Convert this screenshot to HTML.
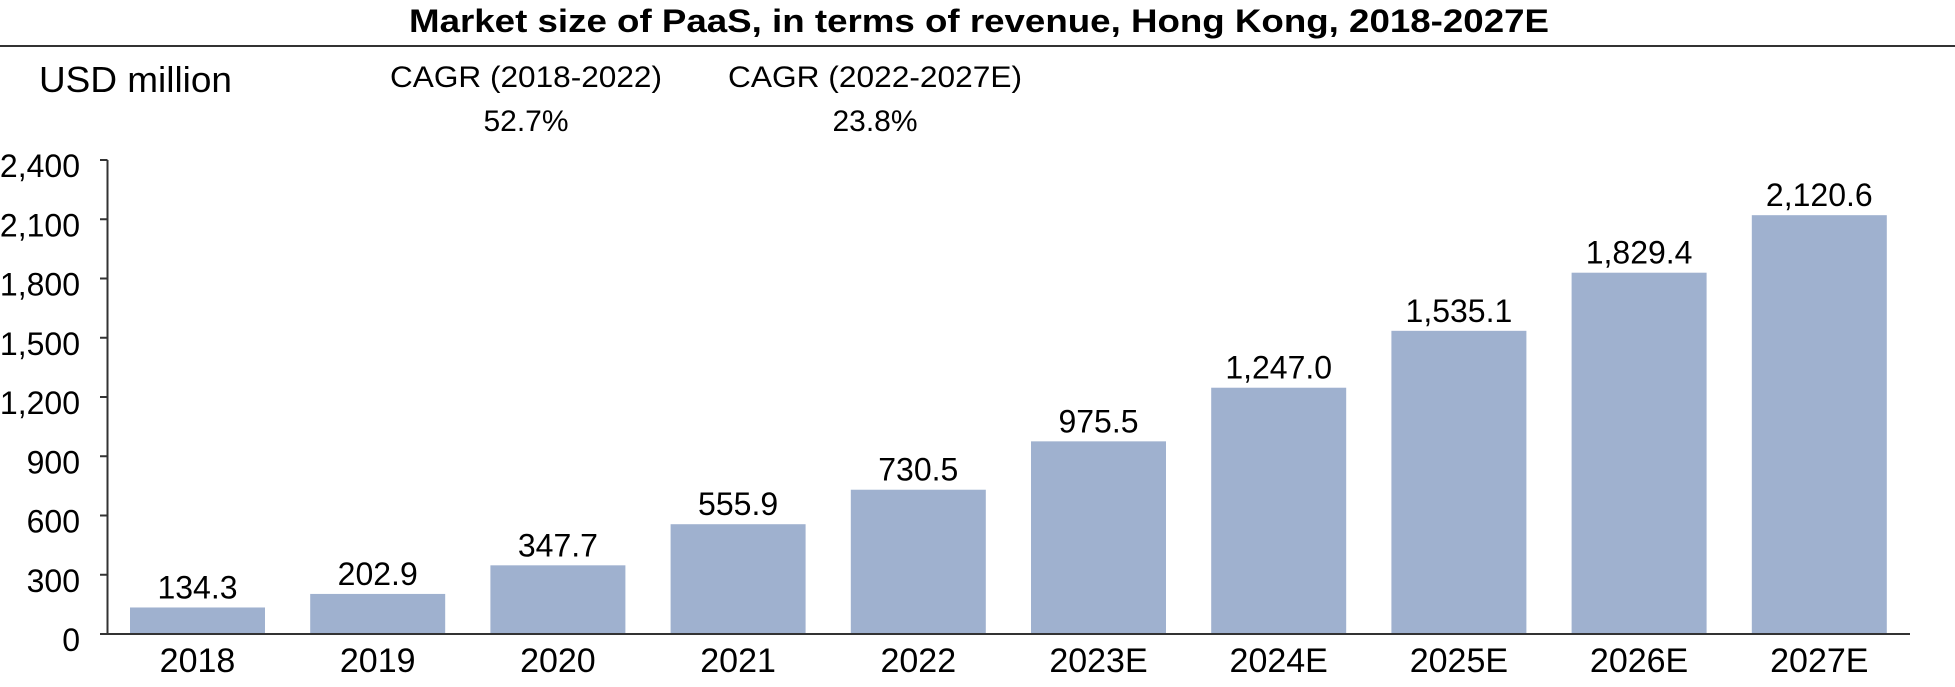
<!DOCTYPE html>
<html><head><meta charset="utf-8"><style>
html,body{margin:0;padding:0;background:#fff;}
svg{display:block;font-family:"Liberation Sans",Arial,sans-serif;}
</style></head><body>
<svg id="chart" width="1955" height="687" viewBox="0 0 1955 687">
<text x="979" y="32" text-anchor="middle" font-size="32" font-weight="bold" textLength="1140" lengthAdjust="spacingAndGlyphs">Market size of PaaS, in terms of revenue, Hong Kong, 2018-2027E</text>
<line x1="0" y1="46" x2="1955" y2="46" stroke="#333" stroke-width="2"/>
<text x="39" y="92" font-size="36" textLength="193" lengthAdjust="spacingAndGlyphs">USD million</text>
<text x="526" y="87" text-anchor="middle" font-size="30" textLength="272" lengthAdjust="spacingAndGlyphs">CAGR (2018-2022)</text>
<text x="526" y="131" text-anchor="middle" font-size="30">52.7%</text>
<text x="875" y="87" text-anchor="middle" font-size="30" textLength="294" lengthAdjust="spacingAndGlyphs">CAGR (2022-2027E)</text>
<text x="875" y="131" text-anchor="middle" font-size="30">23.8%</text>
<g id="bars"></g>
<g id="yaxis"></g>
<g id="xaxis"></g>
</svg>
<script>
const categories = ["2018","2019","2020","2021","2022","2023E","2024E","2025E","2026E","2027E"];
const values = [134.3,202.9,347.7,555.9,730.5,975.5,1247.0,1535.1,1829.4,2120.6];
const valueLabels = ["134.3","202.9","347.7","555.9","730.5","975.5","1,247.0","1,535.1","1,829.4","2,120.6"];
const yTicks = [0,300,600,900,1200,1500,1800,2100,2400];
const yTickLabels = ["0","300","600","900","1,200","1,500","1,800","2,100","2,400"];

const NS = "http://www.w3.org/2000/svg";
const y0 = 634, yTop = 160, yMax = 2400;
const axisX = 107.5, firstCenter = 197.5, step = 180.2, barW = 135;
function yScale(v){ return y0 - (v / yMax) * (y0 - yTop); }
function xScale(i){ return firstCenter + i * step; }
function mk(tag, attrs){ const e = document.createElementNS(NS, tag); for (const k in attrs) e.setAttribute(k, attrs[k]); return e; }

const bars = document.getElementById('bars');
categories.forEach((c, i) => {
  const top = yScale(values[i]);
  const r = mk('rect', {x: xScale(i) - barW/2, y: top, width: barW, height: y0 - top, fill: '#9fb1cf'});
  
  
  bars.appendChild(r);
  const t = mk('text', {x: xScale(i), y: top - 9, 'text-anchor': 'middle', 'font-size': 32});
  t.textContent = valueLabels[i];
  
  
  bars.appendChild(t);
});

const ya = document.getElementById('yaxis');
const yl = mk('line', {x1: axisX, y1: yTop, x2: axisX, y2: y0, stroke: '#333', 'stroke-width': 2});


ya.appendChild(yl);
yTicks.forEach((v, i) => {
  const y = yScale(v);
  const tk = mk('line', {x1: 100, y1: y, x2: axisX, y2: y, stroke: '#333', 'stroke-width': 2});
  
  
  ya.appendChild(tk);
  const t = mk('text', {x: 80, y: y + 17, 'text-anchor': 'end', 'font-size': 32});
  t.textContent = yTickLabels[i];
  
  
  ya.appendChild(t);
});

const xa = document.getElementById('xaxis');
const xl = mk('line', {x1: 100, y1: y0, x2: 1910, y2: y0, stroke: '#333', 'stroke-width': 2});


xa.appendChild(xl);
categories.forEach((c, i) => {
  const t = mk('text', {x: xScale(i), y: 672, 'text-anchor': 'middle', 'font-size': 34});
  t.textContent = c;
  
  
  xa.appendChild(t);
});
</script>
</body></html>
